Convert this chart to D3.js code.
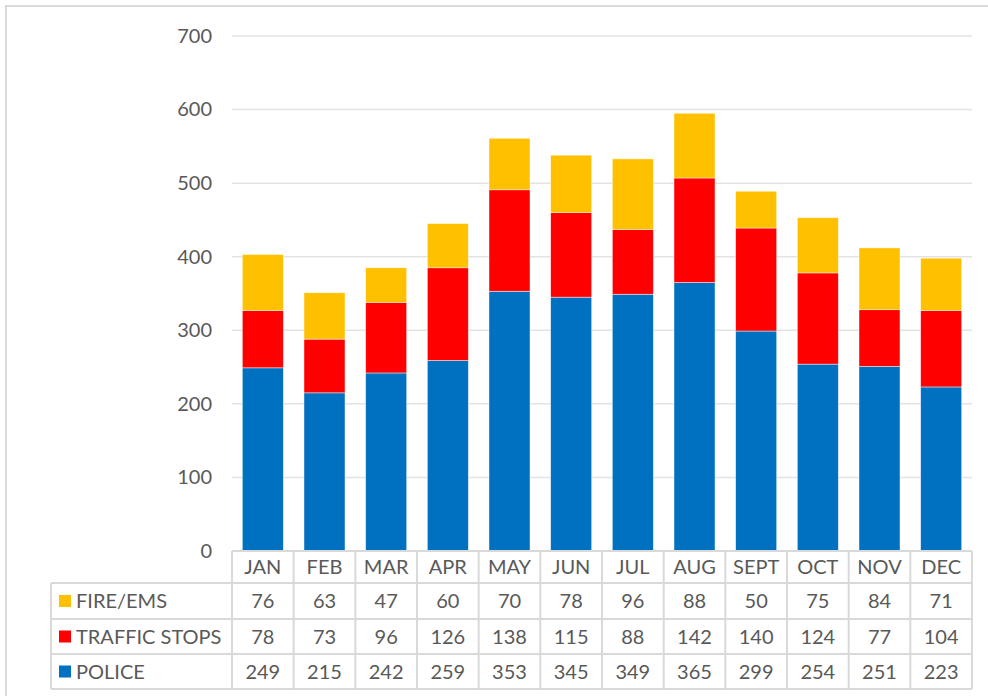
<!DOCTYPE html>
<html>
<head>
<meta charset="utf-8">
<script src="https://cdn.jsdelivr.net/npm/d3@7"></script>
<style>
  body { margin: 0; background: #fff; }
  text { font-family: "Lato", "Noto Sans", sans-serif; fill: #595959; }
</style>
</head>
<body>
<div id="chart"></div>
<script>
// data
var months = ["JAN","FEB","MAR","APR","MAY","JUN","JUL","AUG","SEPT","OCT","NOV","DEC"];
var police = [249,215,242,259,353,345,349,365,299,254,251,223];
var traffic = [78,73,96,126,138,115,88,142,140,124,77,104];
var fire = [76,63,47,60,70,78,96,88,50,75,84,71];
var yTicks = [0,100,200,300,400,500,600,700];

var series = [
  {name: "POLICE", values: police, color: "#0070C0"},
  {name: "TRAFFIC STOPS", values: traffic, color: "#FF0000"},
  {name: "FIRE/EMS", values: fire, color: "#FFC000"}
];

var W = 988, H = 696;
var plotLeft = 232, plotRight = 972, plotTop = 36, plotBottom = 551;

var svg = d3.select("#chart").append("svg")
  .attr("width", W).attr("height", H);

// outer chart border (only top/left visible)
svg.append("rect")
  .attr("x", 6).attr("y", 6)
  .attr("width", W + 10).attr("height", H + 10)
  .style("fill", "none").style("stroke", "#d9d9d9").style("stroke-width", 2);

var x = d3.scaleBand().domain(months).range([plotLeft, plotRight]).paddingInner(0.335).paddingOuter(0.1675);
var y = d3.scaleLinear().domain([0, 700]).range([plotBottom, plotTop]);
var step = x.step();
var cellX = function(m) { return x(m) - step * 0.1675; };

// gridlines
svg.append("g").selectAll("line")
  .data(yTicks.filter(function(d) { return d > 0; }))
  .enter().append("line")
  .attr("x1", plotLeft).attr("x2", plotRight)
  .attr("y1", function(d) { return y(d); })
  .attr("y2", function(d) { return y(d); })
  .style("stroke", "#e3e3e3").style("stroke-width", 1.5);

// y axis
var yAxis = svg.append("g")
  .attr("transform", "translate(" + (plotLeft - 10) + ",0)")
  .call(d3.axisLeft(y).tickValues(yTicks).tickSize(0).tickPadding(10));
yAxis.select(".domain").remove();
yAxis.selectAll("text")
  .style("font-size", "20px")
  .style("font-family", "Lato, 'Noto Sans', sans-serif")
  .attr("fill", "#595959");

// stacked bars
var rows = months.map(function(m, i) {
  return {month: m, POLICE: police[i], "TRAFFIC STOPS": traffic[i], "FIRE/EMS": fire[i]};
});
var stack = d3.stack().keys(series.map(function(s) { return s.name; }))(rows);

svg.append("g").selectAll("g")
  .data(stack)
  .enter().append("g")
  .style("fill", function(d, i) { return series[i].color; })
  .selectAll("rect")
  .data(function(d) { return d; })
  .enter().append("rect")
  .attr("x", function(d) { return x(d.data.month); })
  .attr("y", function(d) { return y(d[1]); })
  .attr("width", x.bandwidth())
  .attr("height", function(d) { return y(d[0]) - y(d[1]); })
  .style("stroke", "#ffffff").style("stroke-width", 0.75).style("stroke-opacity", 0.6);

// data table
var tableLeft = 51;
var rowTops = [551, 583, 619, 654, 689];
var tbl = svg.append("g");
var lineStyle = function(sel) {
  sel.style("stroke", "#d9d9d9").style("stroke-width", 2);
};

// horizontal lines
tbl.append("line").attr("x1", plotLeft).attr("x2", plotRight).attr("y1", rowTops[0]).attr("y2", rowTops[0]).call(lineStyle);
rowTops.slice(1).forEach(function(yy) {
  tbl.append("line").attr("x1", tableLeft).attr("x2", plotRight).attr("y1", yy).attr("y2", yy).call(lineStyle);
});
// vertical lines
tbl.append("line").attr("x1", tableLeft).attr("x2", tableLeft).attr("y1", rowTops[1]).attr("y2", rowTops[4]).call(lineStyle);
months.forEach(function(m) {
  tbl.append("line").attr("x1", cellX(m)).attr("x2", cellX(m)).attr("y1", rowTops[0]).attr("y2", rowTops[4]).call(lineStyle);
});
tbl.append("line").attr("x1", plotRight).attr("x2", plotRight).attr("y1", rowTops[0]).attr("y2", rowTops[4]).call(lineStyle);

// header
tbl.selectAll(".hdr").data(months).enter().append("text")
  .attr("x", function(m) { return cellX(m) + step / 2; })
  .attr("y", (rowTops[0] + rowTops[1]) / 2)
  .attr("dy", "0.36em")
  .attr("text-anchor", "middle")
  .style("font-size", "20px")
  .text(function(m) { return m; });

// rows: fire, traffic, police
var tableOrder = [series[2], series[1], series[0]];
tableOrder.forEach(function(s, r) {
  var cy = (rowTops[r + 1] + rowTops[r + 2]) / 2;
  tbl.append("rect")
    .attr("x", 59).attr("y", cy - 6)
    .attr("width", 12).attr("height", 12)
    .style("fill", s.color);
  tbl.append("text")
    .attr("x", 76).attr("y", cy).attr("dy", "0.36em")
    .style("font-size", "20px")
    .text(s.name);
  tbl.selectAll(".v" + r).data(s.values).enter().append("text")
    .attr("x", function(d, i) { return cellX(months[i]) + step / 2; })
    .attr("y", cy).attr("dy", "0.36em")
    .attr("text-anchor", "middle")
    .style("font-size", "20px")
    .text(function(d) { return d; });
});
</script>
</body>
</html>
